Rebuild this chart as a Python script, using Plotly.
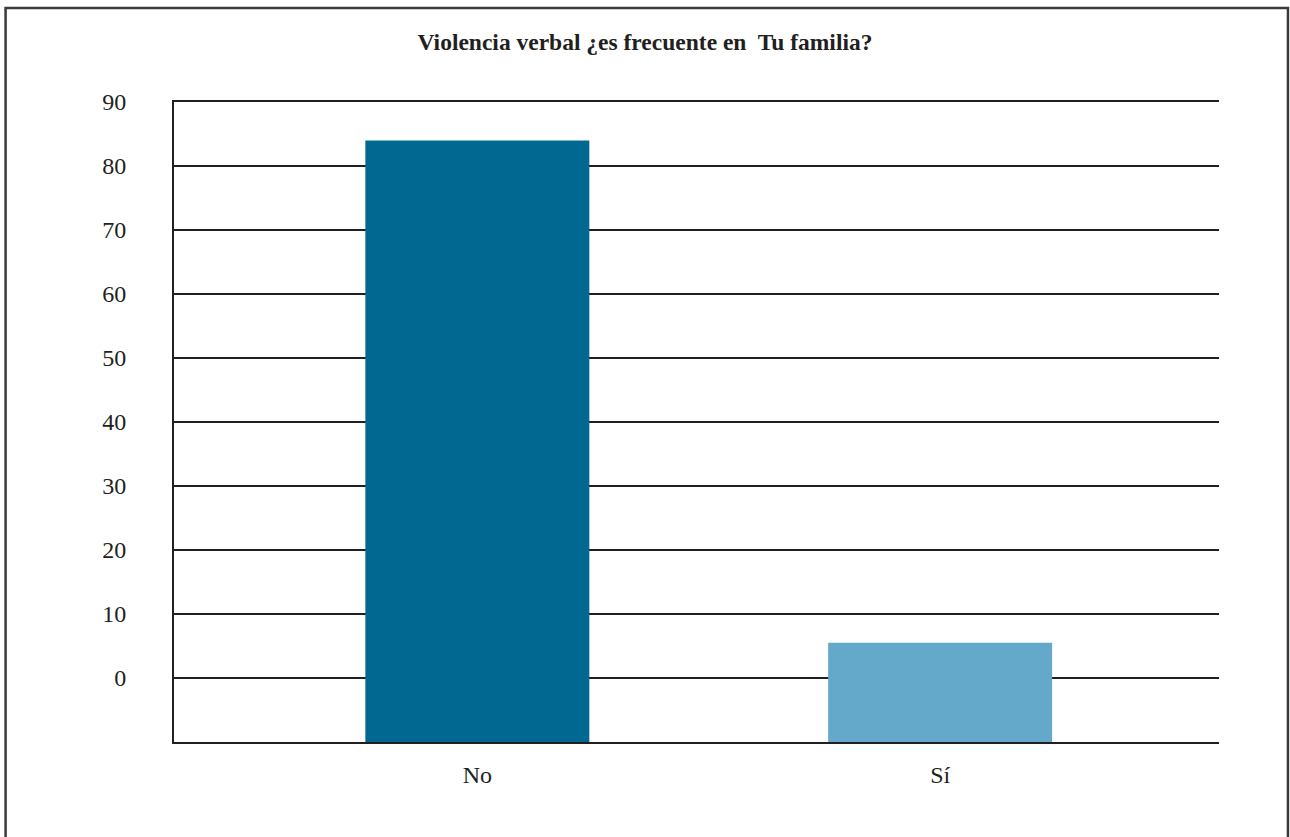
import plotly.graph_objects as go

categories = ["No", "Sí"]
values = [84, 5.5]
bar_colors = ["#016892", "#64a9c9"]
tick_values = [0, 10, 20, 30, 40, 50, 60, 70, 80, 90]
tick_labels = [str(v) for v in tick_values]
axis_bottom = -10
axis_top = 90

FONT = "Liberation Serif, Times New Roman, serif"
INK = "#231f20"

fig = go.Figure(
    go.Bar(
        x=categories,
        y=[v - axis_bottom for v in values],
        base=axis_bottom,
        marker=dict(color=bar_colors, line=dict(width=0)),
        width=0.484,
        hoverinfo="skip",
    )
)

L, R, T, B = 173.5, 71, 101.5, 95
W, H = 1290, 837
pw = W - L - R
ph = H - T - B

fig.update_layout(
    width=W,
    height=H,
    margin=dict(l=L, r=R, t=T, b=B, pad=0),
    paper_bgcolor="white",
    plot_bgcolor="white",
    showlegend=False,
    font=dict(family=FONT, color=INK, size=24),
    title=dict(
        text="Violencia verbal ¿es frecuente en  Tu familia?",
        x=0.5,
        xref="container",
        xanchor="center",
        y=1 - 42 / H,
        yref="container",
        yanchor="middle",
        font=dict(family=FONT, size=23.5, color=INK, weight="bold"),
    ),
    xaxis=dict(
        type="category",
        range=[-0.6555, 1.6026],
        showgrid=False,
        showline=True,
        mirror=True,
        linecolor=INK,
        linewidth=2,
        ticks="",
        ticklabelstandoff=10,
        tickfont=dict(family=FONT, size=24, color=INK),
        fixedrange=True,
    ),
    yaxis=dict(
        range=[axis_bottom, axis_top],
        tickvals=tick_values,
        ticktext=tick_labels,
        showgrid=True,
        gridcolor=INK,
        gridwidth=2,
        zeroline=False,
        showline=True,
        linecolor=INK,
        linewidth=2,
        ticks="",
        ticklabelstandoff=41,
        tickfont=dict(family=FONT, size=24, color=INK),
        fixedrange=True,
    ),
    shapes=[
        dict(
            type="rect",
            xref="paper",
            yref="paper",
            x0=(5 - L) / pw,
            x1=(1288 - L) / pw,
            y0=(H - B - 850) / ph,
            y1=(H - B - 7.5) / ph,
            line=dict(color="#3a3a3a", width=2.5),
            fillcolor="rgba(0,0,0,0)",
            layer="below",
        )
    ],
)

fig.write_html(
    "out.html",
    config={"displayModeBar": False},
    post_script="document.body.style.margin='0';document.body.style.overflow='hidden';",
)
